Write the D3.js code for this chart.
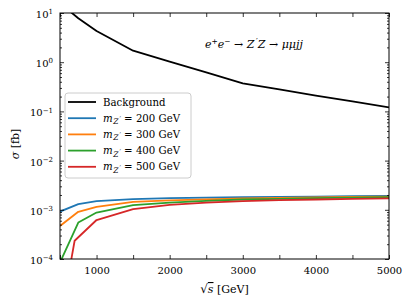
<!DOCTYPE html>
<html>
<head>
<meta charset="utf-8">
<script src="https://cdn.jsdelivr.net/npm/d3@7"></script>
<style>
body { margin: 0; background: #fff; }
text { font-family: 'DejaVu Serif', serif; fill: #000; }
.it { font-style: italic; }
.pr { font-family: 'DejaVu Sans', sans-serif; font-style: normal; }
</style>
</head>
<body>
<div id="chart"></div>
<script>
const width = 411;
const height = 305;
const margin = { top: 13, right: 22, bottom: 46, left: 60 };
const innerW = width - margin.left - margin.right;
const innerH = height - margin.top - margin.bottom;

// sqrt(s) points in GeV
const energies = [500, 750, 1000, 1500, 2000, 2500, 3000, 3500, 4000, 4500, 5000];
const redEnergies = [650, 700, 1000, 1500, 2000, 2500, 3000, 3500, 4000, 4500, 5000];

// cross sections in fb
const background = [16, 7.8, 4.3, 1.71, 1.03, 0.62, 0.37, 0.28, 0.21, 0.16, 0.121];
const mz200 = [0.92e-3, 1.3e-3, 1.5e-3, 1.65e-3, 1.72e-3, 1.76e-3, 1.8e-3, 1.83e-3, 1.86e-3, 1.89e-3, 1.92e-3];
const mz300 = [0.47e-3, 0.91e-3, 1.15e-3, 1.45e-3, 1.55e-3, 1.63e-3, 1.7e-3, 1.74e-3, 1.78e-3, 1.82e-3, 1.85e-3];
const mz400 = [0.85e-4, 0.55e-3, 0.88e-3, 1.24e-3, 1.4e-3, 1.52e-3, 1.62e-3, 1.67e-3, 1.72e-3, 1.76e-3, 1.8e-3];
const mz500 = [0.9e-4, 2.35e-4, 6.2e-4, 1.03e-3, 1.26e-3, 1.4e-3, 1.5e-3, 1.57e-3, 1.62e-3, 1.66e-3, 1.7e-3];

const masses = ['200', '300', '400', '500'];
const xTicks = d3.range(500, 5001, 500);
const yMajor = [1e-4, 1e-3, 1e-2, 1e-1, 1, 10];
const yExponents = ['−4', '−3', '−2', '−1', '0', '1'];

const series = [
  { label: 'Background', xs: energies, ys: background, color: '#000000' },
  { mass: masses[0], xs: energies, ys: mz200, color: '#1f77b4' },
  { mass: masses[1], xs: energies, ys: mz300, color: '#ff7f0e' },
  { mass: masses[2], xs: energies, ys: mz400, color: '#2ca02c' },
  { mass: masses[3], xs: redEnergies, ys: mz500, color: '#d62728' }
];

const svg = d3.select('#chart').append('svg').attr('width', width).attr('height', height);
const g = svg.append('g').attr('transform', `translate(${margin.left},${margin.top})`);

const x = d3.scaleLinear().domain([500, 5000]).range([0, innerW]);
const y = d3.scaleLog().domain([1e-4, 10]).range([innerH, 0]);

// minor ticks for the log axis
const yMinor = [];
for (let e = -4; e < 1; e++) {
  for (let k = 2; k < 10; k++) yMinor.push(k * Math.pow(10, e));
}

svg.append('defs').append('clipPath').attr('id', 'clip')
  .append('rect').attr('width', innerW).attr('height', innerH);

const line = d3.line().x(d => x(d[0])).y(d => y(d[1]));

g.append('g').attr('clip-path', 'url(#clip)')
  .selectAll('path')
  .data(series)
  .enter()
  .append('path')
  .attr('d', s => line(s.xs.map((v, i) => [v, s.ys[i]])))
  .attr('fill', 'none')
  .attr('stroke', s => s.color)
  .attr('stroke-width', 1.8)
  .attr('stroke-linejoin', 'round');

// axes, ticks pointing in
const xBottom = g.append('g').attr('transform', `translate(0,${innerH})`)
  .call(d3.axisBottom(x).tickValues(xTicks).tickSizeInner(-4).tickSizeOuter(0).tickPadding(8)
    .tickFormat(d => d % 1000 === 0 ? d : ''));
g.append('g')
  .call(d3.axisTop(x).tickValues(xTicks).tickSizeInner(-4).tickSizeOuter(0).tickFormat(''));

const yLeft = g.append('g')
  .call(d3.axisLeft(y).tickValues(yMajor).tickSizeInner(-4).tickSizeOuter(0).tickPadding(7).tickFormat(''));
g.append('g')
  .call(d3.axisLeft(y).tickValues(yMinor).tickSizeInner(-2).tickSizeOuter(0).tickFormat(''));
g.append('g').attr('transform', `translate(${innerW},0)`)
  .call(d3.axisRight(y).tickValues(yMajor).tickSizeInner(-4).tickSizeOuter(0).tickFormat(''));
g.append('g').attr('transform', `translate(${innerW},0)`)
  .call(d3.axisRight(y).tickValues(yMinor).tickSizeInner(-2).tickSizeOuter(0).tickFormat(''));

g.selectAll('.domain').remove();
g.selectAll('.tick line').attr('stroke', '#000').attr('stroke-width', 0.8);

xBottom.selectAll('.tick text').attr('font-size', 10).attr('font-family', 'DejaVu Serif');

yLeft.selectAll('.tick text').each(function (d, i) {
  const t = d3.select(this).attr('font-size', 10).attr('font-family', 'DejaVu Serif').attr('dy', '0.45em');
  t.append('tspan').text('10');
  t.append('tspan').attr('font-size', 7).attr('dy', '-0.55em').text(yExponents[i]);
});

// frame
g.append('rect')
  .attr('width', innerW)
  .attr('height', innerH)
  .attr('fill', 'none')
  .attr('stroke', '#000')
  .attr('stroke-width', 1);

// legend
const legend = svg.append('g').attr('transform', 'translate(65,93)');
legend.append('rect')
  .attr('width', 126)
  .attr('height', 85)
  .attr('rx', 3)
  .attr('fill', '#fff')
  .attr('fill-opacity', 0.8)
  .attr('stroke', '#cccccc')
  .attr('stroke-width', 1);

const items = legend.selectAll('.item')
  .data(series)
  .enter()
  .append('g')
  .attr('class', 'item')
  .attr('transform', (d, i) => `translate(0,${9 + i * 16.2})`);

items.append('line')
  .attr('x1', 3).attr('x2', 31)
  .attr('stroke', d => d.color)
  .attr('stroke-width', 1.8);

items.append('text')
  .attr('x', 38)
  .attr('y', 3.5)
  .attr('font-size', 10.2)
  .each(function (d) {
    const t = d3.select(this);
    if (d.label) { t.text(d.label); return; }
    t.append('tspan').attr('class', 'it').text('m');
    t.append('tspan').attr('class', 'it').attr('font-size', 7.5).attr('dy', 2.5).attr('dx', 0.5).text('Z');
    t.append('tspan').attr('class', 'pr').attr('font-size', 6.5).attr('dy', -3).attr('dx', 1).text('′');
    t.append('tspan').attr('dy', 0.5).text(` = ${d.mass} GeV`);
  });

// process label
const title = svg.append('text').attr('x', 205).attr('y', 48).attr('font-size', 11);
title.append('tspan').attr('class', 'it').text('e');
title.append('tspan').attr('font-size', 7.5).attr('dy', -4.5).text('+');
title.append('tspan').attr('class', 'it').attr('dy', 4.5).text('e');
title.append('tspan').attr('font-size', 7.5).attr('dy', -4.5).text('−');
title.append('tspan').attr('dy', 4.5).text(' → ');
title.append('tspan').attr('class', 'it').text('Z');
title.append('tspan').attr('class', 'pr').attr('font-size', 8).attr('dy', -3).attr('dx', 1.5).text('′');
title.append('tspan').attr('class', 'it').attr('dy', 3).text('Z');
title.append('tspan').text(' → ');
title.append('tspan').attr('class', 'it').text('μμjj');

// axis titles
const xl = svg.append('text')
  .attr('x', margin.left + innerW / 2)
  .attr('y', 293)
  .attr('text-anchor', 'middle')
  .attr('font-size', 11);
xl.append('tspan').attr('font-size', 12).text('√');
xl.append('tspan').attr('class', 'it').style('text-decoration', 'overline').text('s');
xl.append('tspan').text(' [GeV]');

const yl = svg.append('text')
  .attr('transform', 'translate(19,144) rotate(-90)')
  .attr('text-anchor', 'middle')
  .attr('font-size', 11);
yl.append('tspan').attr('class', 'it').text('σ');
yl.append('tspan').text(' [fb]');
</script>
</body>
</html>
